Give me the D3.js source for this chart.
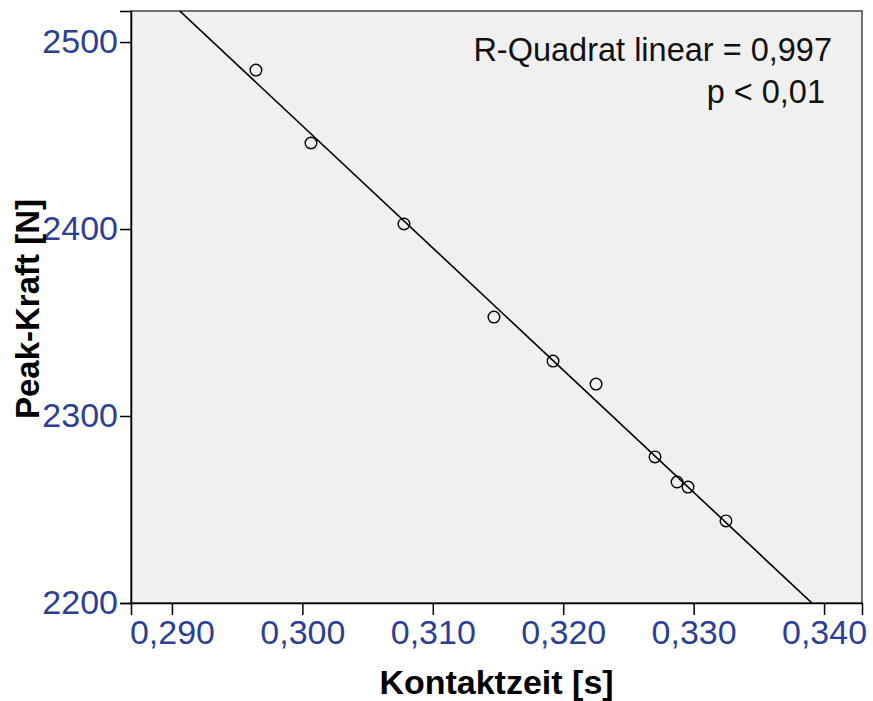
<!DOCTYPE html>
<html>
<head>
<meta charset="utf-8">
<script src="https://cdn.jsdelivr.net/npm/d3@7"></script>
<style>
  body { margin: 0; background: #fff; }
  text { font-family: "Liberation Sans", Arial, sans-serif; }
</style>
</head>
<body>
<div id="chart"></div>
<script>
// Kontaktzeit [s] vs Peak-Kraft [N]
const contactTime = [0.29644, 0.30066, 0.30779, 0.31469, 0.31922, 0.32252, 0.32704, 0.32873, 0.32957, 0.33248];
const peakForce   = [2485.0, 2446.0, 2402.7, 2352.9, 2329.4, 2317.1, 2278.1, 2264.7, 2262.0, 2243.9];
const xTicks = [0.290, 0.300, 0.310, 0.320, 0.330, 0.340];
const yTicks = [2200, 2300, 2400, 2500];
const annotation = ["R-Quadrat linear = 0,997", "p < 0,01"];

const width = 873, height = 701;
const margin = {top: 11, right: 11, bottom: 98, left: 131};
const tickBlue = "#2b3f94";

const svg = d3.select("#chart").append("svg")
    .attr("width", width)
    .attr("height", height);

const x = d3.scaleLinear()
    .domain([0.28686, 0.34291])
    .range([margin.left, width - margin.right]);

const y = d3.scaleLinear()
    .domain([2200, 2516.6])
    .range([height - margin.bottom, margin.top]);

const data = contactTime.map((t, i) => ({x: t, y: peakForce[i]}));

// plot background + frame
svg.append("rect")
    .attr("x", margin.left)
    .attr("y", margin.top)
    .attr("width", width - margin.left - margin.right)
    .attr("height", height - margin.top - margin.bottom)
    .attr("fill", "#f0f0f0")
    .attr("stroke", "#444")
    .attr("stroke-width", 1.5);

svg.append("clipPath").attr("id", "clip")
  .append("rect")
    .attr("x", margin.left)
    .attr("y", margin.top)
    .attr("width", width - margin.left - margin.right)
    .attr("height", height - margin.top - margin.bottom);

// least squares fit
const mx = d3.mean(data, d => d.x), my = d3.mean(data, d => d.y);
const slope = d3.sum(data, d => (d.x - mx) * (d.y - my)) / d3.sum(data, d => (d.x - mx) ** 2);
const icpt = my - slope * mx;
const fitLine = x.domain().map(v => ({x: v, y: icpt + slope * v}));

svg.append("path")
    .datum(fitLine)
    .attr("clip-path", "url(#clip)")
    .attr("fill", "none")
    .attr("stroke", "#000")
    .attr("stroke-width", 1.6)
    .attr("d", d3.line().x(d => x(d.x)).y(d => y(d.y)));

svg.append("g").selectAll("circle")
  .data(data)
  .join("circle")
    .attr("cx", d => x(d.x))
    .attr("cy", d => y(d.y))
    .attr("r", 5.8)
    .attr("fill", "none")
    .attr("stroke", "#000")
    .attr("stroke-width", 1.4);

// axes
const fmt = v => d3.format(".3f")(v).replace(".", ",");

const xAxis = svg.append("g")
    .attr("transform", `translate(0,${height - margin.bottom})`)
    .call(d3.axisBottom(x).tickValues(xTicks).tickFormat(fmt).tickSize(12).tickPadding(3));

const yAxis = svg.append("g")
    .attr("transform", `translate(${margin.left},0)`)
    .call(d3.axisLeft(y).tickValues(yTicks).tickFormat(d3.format("d")).tickSize(11).tickPadding(2));

[xAxis, yAxis].forEach(ax => {
  ax.select(".domain").attr("stroke", "#000").attr("stroke-width", 1.5);
  ax.selectAll(".tick line").attr("stroke", "#000").attr("stroke-width", 1.5);
  ax.selectAll(".tick text")
      .attr("fill", tickBlue)
      .style("font-size", "34px")
      .style("font-family", "'Liberation Sans', Arial, sans-serif");
});
xAxis.selectAll(".tick text").attr("dy", "0.75em");

// axis titles
svg.append("text")
    .attr("x", (margin.left + width - margin.right) / 2)
    .attr("y", 694)
    .attr("text-anchor", "middle")
    .attr("font-weight", "bold")
    .attr("font-size", 34)
    .text("Kontaktzeit [s]");

svg.append("text")
    .attr("transform", "translate(39,309) rotate(-90)")
    .attr("text-anchor", "middle")
    .attr("font-weight", "bold")
    .attr("font-size", 33)
    .text("Peak-Kraft [N]");

// annotation
const annX = [832, 825];
svg.append("g").selectAll("text")
  .data(annotation)
  .join("text")
    .attr("x", (d, i) => annX[i])
    .attr("y", (d, i) => 61 + i * 42)
    .attr("text-anchor", "end")
    .attr("font-size", 32.5)
    .attr("fill", "#111")
    .text(d => d);
</script>
</body>
</html>
